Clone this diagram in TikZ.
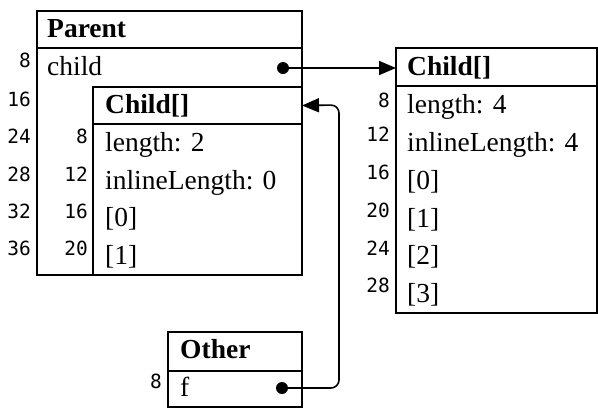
\documentclass[tikz,border=0pt]{standalone}
\usepackage{fontspec}
\setmainfont{Liberation Serif}
\newfontfamily\numfont{DejaVu Sans Mono}
\usetikzlibrary{arrows.meta}

\tikzset{
  box/.style={draw, line width=1.6pt, anchor=north west, inner sep=0pt, outer sep=0pt},
  txt/.style={anchor=base west, inner sep=0pt, font=\fontsize{27.5}{30}\selectfont},
  hd/.style={txt, font=\fontsize{27.5}{30}\selectfont\bfseries},
  off/.style={anchor=base east, inner sep=0pt, font=\numfont\fontsize{19.5}{22}\selectfont},
  dot/.style={circle, fill, inner sep=0pt, minimum size=12pt},
  link/.style={line width=1.6pt, -{Triangle[length=17pt,width=14pt]}, rounded corners=8pt},
}

\begin{document}
\begin{tikzpicture}[x=1pt,y=-1pt]
\useasboundingbox (0,0) rectangle (598,408);

% Parent object
\node[box, minimum width=265pt, minimum height=264pt] (parent) at (37,11) {};
\node[box, minimum width=265pt, minimum height=37pt] (phdr) at (37,11) {};
\node[hd] (ptitle) at (47,37) {Parent};
\node[txt] (pchild) at (47,75) {child};
\node[dot] (pdot) at (283,68) {};

% Child[] stored inline in Parent
\node[box, minimum width=209pt, minimum height=188pt] (inl) at (93,87) {};
\node[box, minimum width=209pt, minimum height=37pt] (ihdr) at (93,87) {};
\node[hd] (ititle) at (105,113) {Child[]};
\node[txt] (ilen) at (105,151) {length: 2};
\node[txt] (iinl) at (105,189) {inlineLength: 0};
\node[txt] (i0) at (105,226) {[0]};
\node[txt] (i1) at (105,264) {[1]};

% Parent offsets
\node[off] (po8) at (31,67) {8};
\node[off] (po16) at (31,106) {16};
\node[off] (po24) at (31,143) {24};
\node[off] (po28) at (31,181) {28};
\node[off] (po32) at (31,218) {32};
\node[off] (po36) at (31,255) {36};

% Inline Child[] offsets
\node[off] (io8) at (88,143) {8};
\node[off] (io12) at (88,181) {12};
\node[off] (io16) at (88,218) {16};
\node[off] (io20) at (88,255) {20};

% Separate Child[] object
\node[box, minimum width=201pt, minimum height=265pt] (arr) at (396,48) {};
\node[box, minimum width=201pt, minimum height=38pt] (ahdr) at (396,48) {};
\node[hd] (atitle) at (407,75) {Child[]};
\node[txt] (alen) at (407,113) {length: 4};
\node[txt] (ainl) at (407,151) {inlineLength: 4};
\node[txt] (a0) at (407,189) {[0]};
\node[txt] (a1) at (407,227) {[1]};
\node[txt] (a2) at (407,264) {[2]};
\node[txt] (a3) at (407,302) {[3]};

\node[off] (ao8) at (390,107) {8};
\node[off] (ao12) at (390,141) {12};
\node[off] (ao16) at (390,179) {16};
\node[off] (ao20) at (390,217) {20};
\node[off] (ao24) at (390,255) {24};
\node[off] (ao28) at (390,292) {28};

% Other object
\node[box, minimum width=134pt, minimum height=75pt] (other) at (168,332) {};
\node[box, minimum width=134pt, minimum height=39pt] (ohdr) at (168,332) {};
\node[hd] (otitle) at (180,358) {Other};
\node[txt] (of) at (180,396) {f};
\node[off] (oo8) at (162,388) {8};
\node[dot] (odot) at (282,388) {};

% References
\coordinate (bend) at (339,105);
\draw[link] (pdot.center) -- (pdot.center -| ahdr.west);
\draw[link] (odot.center) -| (bend) -- (ihdr.east);
\end{tikzpicture}
\end{document}
